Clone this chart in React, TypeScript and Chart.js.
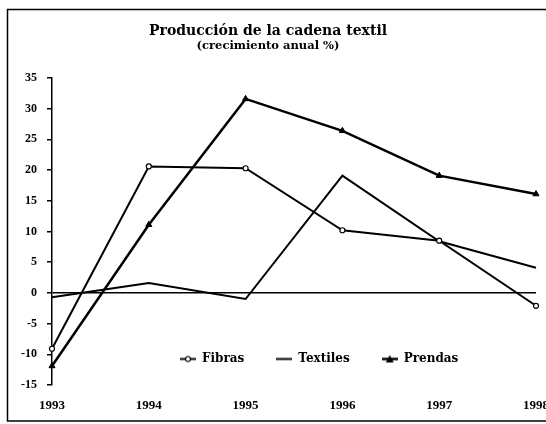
import React, { useEffect, useRef } from 'react';
import { Chart, registerables } from 'chart.js';

Chart.register(...registerables);

const years = ['1993', '1994', '1995', '1996', '1997', '1998'];
const fibras = [-9.1, 20.6, 20.3, 10.2, 8.5, -2.1];
const textiles = [-0.7, 1.6, -1.0, 19.1, 8.4, 4.1];
const prendas = [-11.9, 11.1, 31.6, 26.4, 19.1, 16.1];
const seriesNames = ['Fibras', 'Textiles', 'Prendas'];
const titleText = 'Producción de la cadena textil';
const subtitleText = '(crecimiento anual %)';
const yMin = -15;
const yMax = 35;
const yStep = 5;

const SERIF = '"Liberation Serif", "Times New Roman", serif';
const WIDE_SERIF = '"DejaVu Serif", "Liberation Serif", serif';
const INK = '#000';

const LEGEND_X = 180;
const LEGEND_Y = 359;

function makeIcon(kind: string) {
  const c = document.createElement('canvas');
  c.width = 16;
  c.height = 9;
  const g = c.getContext('2d')!;
  g.strokeStyle = INK;
  g.lineWidth = kind === 'triangle' ? 2.5 : 2;
  g.beginPath();
  g.moveTo(0, 4.5);
  g.lineTo(16, 4.5);
  g.stroke();
  if (kind === 'circle') {
    g.beginPath();
    g.arc(8, 4.5, 2.5, 0, Math.PI * 2);
    g.fillStyle = '#fff';
    g.fill();
    g.lineWidth = 1.2;
    g.stroke();
  }
  if (kind === 'triangle') {
    g.beginPath();
    g.moveTo(8, 0.5);
    g.lineTo(12, 8);
    g.lineTo(4, 8);
    g.closePath();
    g.fillStyle = INK;
    g.fill();
  }
  return c;
}

const framePlugin = {
  id: 'frame',
  beforeDraw(chart: any) {
    const ctx = chart.ctx;
    ctx.save();
    ctx.strokeStyle = INK;
    ctx.lineWidth = 1.5;
    ctx.strokeRect(7.5, 9.5, 600, 411.5);
    ctx.restore();
  },
};

const legendPlacer = {
  id: 'legendPlacer',
  afterLayout(chart: any) {
    const lg = chart.legend;
    if (!lg) return;
    const pad = lg.options.labels.padding;
    const fs = lg.options.labels.font.size;
    lg.left = LEGEND_X - pad;
    lg.top = LEGEND_Y - pad - fs / 2;
    lg.bottom = lg.top + 2 * pad + 2 * fs;
  },
};

export default function App() {
  const ref = useRef<HTMLCanvasElement | null>(null);

  useEffect(() => {
    if (!ref.current) return;
    const icons = [makeIcon('circle'), makeIcon('line'), makeIcon('triangle')];
    const chart = new Chart(ref.current, {
      type: 'line',
      data: {
        labels: years,
        datasets: [
          {
            label: seriesNames[0],
            data: fibras,
            borderColor: INK,
            borderWidth: 2,
            pointStyle: 'circle',
            pointRadius: 2.5,
            pointBackgroundColor: '#fff',
            pointBorderColor: INK,
            pointBorderWidth: 1.2,
            tension: 0,
            clip: false as any,
          },
          {
            label: seriesNames[1],
            data: textiles,
            borderColor: INK,
            borderWidth: 2,
            pointRadius: 0,
            tension: 0,
            clip: false as any,
          },
          {
            label: seriesNames[2],
            data: prendas,
            borderColor: INK,
            borderWidth: 2.5,
            pointStyle: 'triangle',
            pointRadius: 3.5,
            pointBackgroundColor: INK,
            pointBorderColor: INK,
            pointBorderWidth: 1,
            tension: 0,
            clip: false as any,
          },
        ],
      },
      options: {
        responsive: false,
        animation: false,
        events: [],
        layout: { padding: { left: 0, right: 10, top: 0, bottom: 0 } },
        plugins: {
          tooltip: { enabled: false },
          title: {
            display: true,
            text: titleText,
            color: INK,
            font: { family: WIDE_SERIF, size: 14, weight: 'bold' },
            padding: { top: 23, bottom: 0 },
          },
          subtitle: {
            display: true,
            text: subtitleText,
            color: INK,
            font: { family: WIDE_SERIF, size: 11.5, weight: 'bold', lineHeight: 1 },
            padding: { top: 0, bottom: 25.7 },
          },
          legend: {
            display: true,
            position: 'top',
            align: 'start',
            maxHeight: 1,
            labels: {
              color: INK,
              font: { family: WIDE_SERIF, size: 12, weight: 'bold' },
              usePointStyle: true,
              pointStyleWidth: 16,
              padding: 32,
              generateLabels: (c: any) =>
                Chart.defaults.plugins.legend.labels
                  .generateLabels(c)
                  .map((l: any, i: number) => ({ ...l, pointStyle: icons[i] })),
            },
          },
        },
        scales: {
          x: {
            type: 'category',
            offset: false,
            grid: { display: false, drawTicks: false },
            border: { display: false },
            ticks: {
              color: INK,
              font: { family: SERIF, size: 13, weight: 'bold' },
              padding: 13,
              maxRotation: 0,
              autoSkip: false,
            },
            afterFit: (scale: any) => {
              scale.height = 39;
              scale.paddingLeft = 0;
              scale.paddingRight = 0;
            },
          },
          y: {
            min: yMin,
            max: yMax,
            grid: {
              drawOnChartArea: true,
              color: (ctx: any) => (ctx.tick && ctx.tick.value === 0 ? INK : 'rgba(0,0,0,0)'),
              lineWidth: 1.5,
              tickColor: INK,
              tickLength: 5,
              drawTicks: true,
            },
            border: { display: true, color: INK, width: 1.5 },
            ticks: {
              stepSize: yStep,
              color: INK,
              font: { family: SERIF, size: 12, weight: 'bold' },
              padding: 10,
            },
            afterFit: (scale: any) => {
              scale.width = 52;
            },
          },
        },
      },
      plugins: [framePlugin, legendPlacer],
    });
    return () => chart.destroy();
  }, []);

  return (
    <div style={{ position: 'fixed', left: 0, top: 0, width: 546, height: 424, background: '#fff' }}>
      <canvas ref={ref} width={546} height={424} />
    </div>
  );
}
